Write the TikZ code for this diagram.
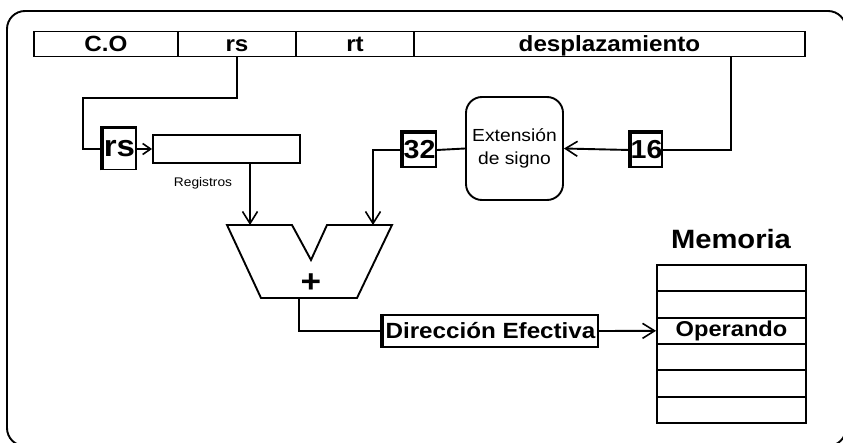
\documentclass[tikz,border=0pt]{standalone}
\usepackage{fontspec}
\setmainfont{Liberation Sans}[FakeStretch=1.1]
\usetikzlibrary{arrows.meta}

\begin{document}
\begin{tikzpicture}
[x=1pt,y=-1pt,line width=1.9pt,%
  lineDecorate/.style={-{Straight Barb[length=12pt,width=15pt,line width=1.6pt]}},%
  shortDecorate/.style={-{Straight Barb[length=8pt,width=11pt,line width=1.6pt]}},%
  fieldDecorate/.style={draw,minimum height=25pt,inner sep=0pt,text height=18pt,text depth=3pt,font=\fontsize{22}{22}\bfseries\selectfont},%
  tagDecorate/.style={draw,inner sep=0pt,font=\fontsize{26}{26}\bfseries\selectfont},%
  cellDecorate/.style={draw,minimum width=149pt,minimum height=26.33pt,inner sep=0pt,font=\fontsize{21.5}{21.5}\bfseries\selectfont}]
\useasboundingbox (0,0) rectangle (843,443);
%% outer frame
\draw[rounded corners=18pt] (7,11) rectangle (846,446);
%% instruction fields
\foreach \fieldname/\xa/\xb/\txt in {
  co/34/178/C.O, rsf/178/296/rs, rtf/296/414/rt, desp/414/805/desplazamiento}
{
  \pgfmathsetmacro{\w}{\xb-\xa}
  \node (\fieldname) at ({(\xa+\xb)/2},44) [fieldDecorate,minimum width=\w pt] {\txt};
}
%% boxes
\node (rsbox) at (119.5,149) [tagDecorate,minimum width=33pt,minimum height=41pt,font=\fontsize{30}{30}\bfseries\selectfont] {rs};
\node (reg) at (226.5,149) [draw,minimum width=147pt,minimum height=28pt] {};
\node (reglabel) at (203,183) [font=\fontsize{12.5}{12.5}\selectfont] {Registros};
\node (ext) at (514.5,148.5) [draw,rounded corners=16pt,minimum width=97pt,minimum height=103pt,align=center,font=\fontsize{17.5}{23}\selectfont] {Extensión\\de signo};
\node (b32) at (419.5,150) [tagDecorate,minimum width=33pt,minimum height=34pt] {32};
\node (b16) at (646.5,150) [tagDecorate,minimum width=31pt,minimum height=34pt] {16};
\node (dir) at (490.5,331) [draw,minimum width=215pt,minimum height=32pt,inner sep=0pt,font=\fontsize{22}{22}\bfseries\selectfont] {Dirección Efectiva};
%% heavy left and top edges
\foreach \boxname in {rsbox,b32,b16}
{
  \draw[line width=3.4pt] (\boxname.south west) -- (\boxname.north west) -- (\boxname.north east);
}
\draw[line width=3.4pt] (dir.north west) -- (dir.south west);
%% adder
\foreach \pname/\x/\y in {
  a1/227/225, a2/292/225, a3/311/260, a4/327/225,
  a5/392/225, a6/357/298, a7/261/298}
{
  \coordinate (\pname) at (\x,\y);
}
\draw[line join=miter] (a1) -- (a2) -- (a3) -- (a4) -- (a5) -- (a6) -- (a7) -- cycle;
\node (plus) at (311,283) [font=\fontsize{32}{32}\bfseries\selectfont] {+};
\coordinate (aluInA) at (250,225);
\coordinate (aluInB) at (373,225);
\coordinate (aluOut) at (299,298);
%% memory
\foreach \i/\txt in {1/,2/,3/Operando,4/,5/,6/}
{
  \node (mem\i) at (731.5,{265+26.33*(\i-0.5)}) [cellDecorate] {\txt};
}
\node (memlabel) at (731,239) [font=\fontsize{26.5}{26.5}\bfseries\selectfont] {Memoria};
%% connectors
\coordinate (rsTurn) at (83,98);
\coordinate (despTap) at (731,57);
\draw (rsf.south) |- (rsTurn) |- (rsbox.west);
\draw[shortDecorate] (rsbox.east) -- (reg.west);
\draw[lineDecorate] (reg.south -| aluInA) -- (aluInA);
\draw (despTap) |- (b16.east);
\draw[lineDecorate] (b16.west) -- (ext.east);
\draw (ext.west) -- (b32.east);
\draw[lineDecorate] (b32.west) -| (aluInB);
\draw (aluOut) |- (dir.west);
\draw[lineDecorate] (dir.east) -- (mem3.west);
\end{tikzpicture}
\end{document}
